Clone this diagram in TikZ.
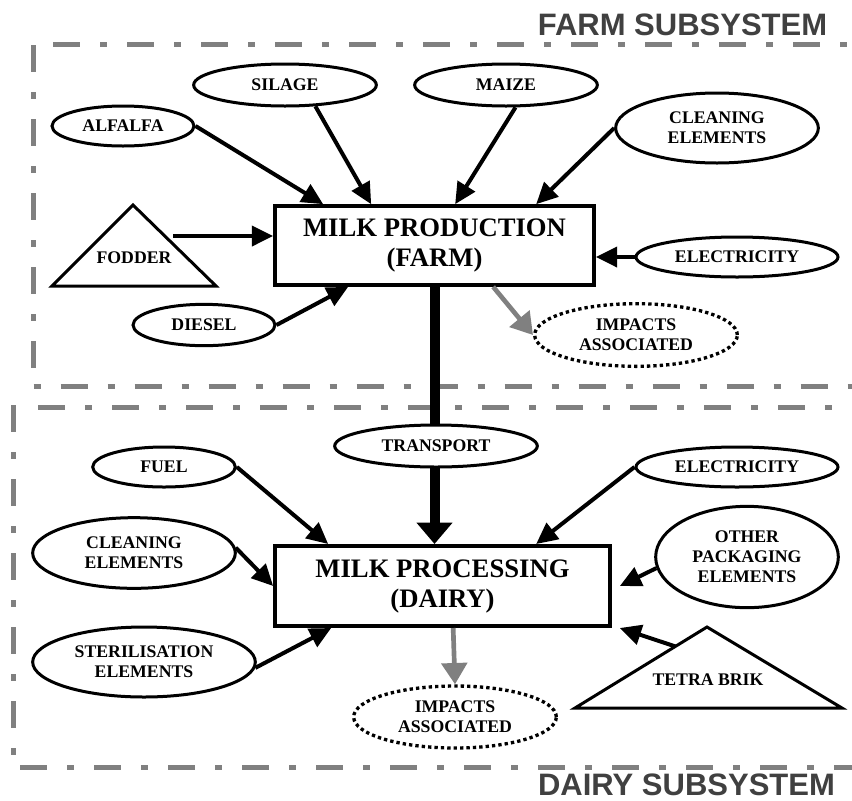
\documentclass[tikz,border=0pt]{standalone}
\usepackage{fontspec}
\setmainfont{Liberation Serif}
\newfontfamily\headfont{Liberation Sans}
\usetikzlibrary{calc,arrows.meta,shapes.geometric}

\begin{document}
\begin{tikzpicture}[x=0.75pt, y=-0.75pt,
		inflow/.style={ellipse, draw, line width=2.25pt, fill=white, inner sep=0pt, align=center, font=\bfseries\fontsize{13.3}{15}\selectfont},
		impact/.style={inflow, line width=2.5pt, dash pattern=on 2.5pt off 2.3pt},
		stage/.style={rectangle, draw, line width=3pt, fill=white, inner sep=0pt, align=center, font=\bfseries\fontsize{20}{22.5}\selectfont},
		feed/.style={line width=3pt, -{Triangle[length=16pt, width=15pt]}},
		loss/.style={line width=3.5pt, color=black!50, -{Triangle[length=16pt, width=19pt]}},
		border/.style={line width=3.75pt, color=black!50, dash pattern=on 20.25pt off 15pt on 5.25pt off 15pt},
		heading/.style={anchor=base, inner sep=0pt, text=black!75, font=\headfont\bfseries\fontsize{23.25}{28}\selectfont}]
		%%%%% START %%%%%
		
		\useasboundingbox (0, 0) rectangle (852, 800);
		
		\draw[border] (53, 44) -- (852, 44);
		\draw[border] (33.5, 45) -- (33.5, 380);
		\draw[border, dash phase=35.25pt] (33.5, 386.7) -- (852, 386.7);
		\node[heading] (farmtitle) at (682.5, 35) {FARM SUBSYSTEM};
		
		\draw[border] (38.3, 407.5) -- (852, 407.5);
		\draw[border] (13.3, 405) -- (13.3, 760);
		\draw[border] (20, 767.3) -- (852, 767.3);
		\node[heading] (dairytitle) at (686.5, 795) {DAIRY SUBSYSTEM};
		
		\node[stage, minimum width=239pt, minimum height=59pt] (prod) at (434.5, 245.5) {MILK PRODUCTION\\(FARM)};
		\node[stage, minimum width=251pt, minimum height=60pt] (proc) at (442.5, 586) {MILK PROCESSING\\(DAIRY)};
		
		\node[inflow, minimum width=106.5pt, minimum height=30pt] (alfalfa) at (123, 126) {ALFALFA};
		\node[inflow, minimum width=137pt, minimum height=31.5pt] (silage) at (285, 85) {SILAGE};
		\node[inflow, minimum width=137pt, minimum height=31.5pt] (maize) at (506, 85) {MAIZE};
		\node[inflow, minimum width=152pt, minimum height=52.5pt] (cleanfarm) at (717, 128) {CLEANING\\ELEMENTS};
		\node[inflow, minimum width=151.5pt, minimum height=30pt] (elecfarm) at (737, 257) {ELECTRICITY};
		\node[inflow, minimum width=106.5pt, minimum height=31pt] (diesel) at (204, 325) {DIESEL};
		\node[impact, minimum width=152pt, minimum height=47pt] (impfarm) at (636, 335) {IMPACTS\\ASSOCIATED};
		
		\draw[line width=2.25pt] (52, 286) -- (133, 205) -- (216, 286) -- cycle;
		\node[font=\bfseries\fontsize{13.3}{15}\selectfont, anchor=base, inner sep=0pt] (fodder) at (134, 263) {FODDER};
		\coordinate (fodder in) at (173, 236);
		
		\draw[feed] (alfalfa.east) -- ($(prod.north west)+(50, 0)$);
		\draw[feed] (silage.-35) -- ($(prod.north west)+(98, 0)$);
		\draw[feed] (maize.-67) -- ($(prod.north west)+(182, 0)$);
		\draw[feed] (cleanfarm.west) -- ($(prod.north west)+(263, 0)$);
		\draw[feed] (fodder in) -- (prod.west |- fodder in);
		\draw[feed] (elecfarm.west) -- (prod.east |- elecfarm.west);
		\draw[feed] (diesel.east) -- ($(prod.south west)+(75, 0)$);
		\draw[loss] ($(prod.south west)+(220, 0)$) -- (impfarm.west);
		
		\draw[line width=7.5pt, -{Triangle[length=16pt, width=26pt]}] (prod.south) -- (prod.south |- proc.north);
		\node[inflow, minimum width=152pt, minimum height=31.5pt] (transport) at (436, 446) {TRANSPORT};
		
		\node[inflow, minimum width=107pt, minimum height=30pt] (fuel) at (164, 467) {FUEL};
		\node[inflow, minimum width=152pt, minimum height=53pt] (cleandairy) at (134, 553) {CLEANING\\ELEMENTS};
		\node[inflow, minimum width=167pt, minimum height=52.5pt] (steril) at (144, 662) {STERILISATION\\ELEMENTS};
		\node[inflow, minimum width=151.5pt, minimum height=30pt] (elecdairy) at (737, 467) {ELECTRICITY};
		\node[inflow, minimum width=137pt, minimum height=76pt] (otherpack) at (747, 557) {OTHER\\PACKAGING\\ELEMENTS};
		\node[impact, minimum width=152pt, minimum height=46.5pt] (impdairy) at (455, 717) {IMPACTS\\ASSOCIATED};
		
		\draw[line width=2.25pt] (575, 708) -- coordinate[pos=0.76] (tetra in) (707, 627) -- (842, 708) -- cycle;
		\node[font=\bfseries\fontsize{13.3}{15}\selectfont, anchor=base, inner sep=0pt] (tetra) at (708, 685) {TETRA BRIK};
		
		\draw[feed] (fuel.east) -- ($(proc.north west)+(55, 0)$);
		\draw[feed] (cleandairy.3) -- (proc.west);
		\draw[feed] (steril.-3) -- ($(proc.south west)+(58, 0)$);
		\draw[feed] (elecdairy.west) -- ($(proc.north west)+(263, 0)$);
		\draw[feed] (otherpack.187) -- ($(proc.east)+(8, 0)$);
		\draw[feed] (tetra in) -- ($(proc.south east)+(8, 0)$);
		\draw[loss] ($(proc.south west)+(180, 0)$) -- (impdairy.north);
		
		%%%%% END %%%%%
	\end{tikzpicture}
\end{document}
